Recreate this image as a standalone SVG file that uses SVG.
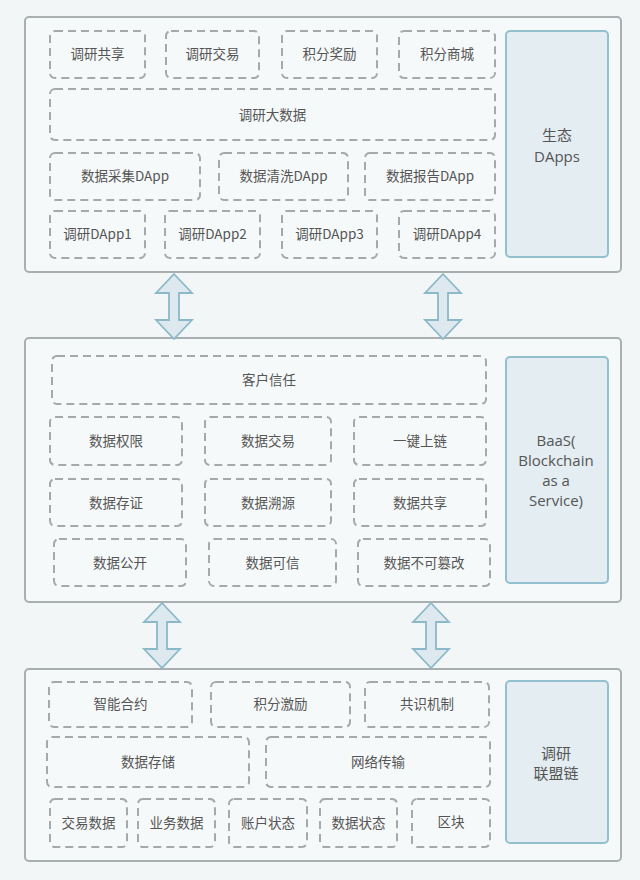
<svg xmlns="http://www.w3.org/2000/svg" width="640" height="880" viewBox="0 0 640 880">
<style>
.outer{fill:#f6f9fa;stroke:#a9aeb1;stroke-width:2}
.dash{fill:none;stroke:#a6a9ab;stroke-width:2;stroke-dasharray:8 5}
.side{fill:#e3edf2;stroke:#92c0cf;stroke-width:2}
.arrow{fill:#dde9ef;stroke:#8bb9c9;stroke-width:1.8;stroke-linejoin:miter}
.t{font-family:"Noto Sans CJK SC","Noto Sans",sans-serif;font-size:13.5px;fill:#555;text-anchor:middle}
.s{font-family:"Open Sans","Noto Sans CJK SC",sans-serif;font-size:15px;fill:#555;text-anchor:middle}
</style>
<defs>
<path id="dblarrow" d="M0,0 L18,19 L5,19 L5,46 L18,46 L0,65 L-18,46 L-5,46 L-5,19 L-18,19 Z"/>
</defs>
<rect x="0" y="0" width="640" height="880" fill="#f3f6f7"/>

<g id="layer-dapps">
<rect class="outer" x="25" y="17" width="596" height="255" rx="4"/>
<g id="n-dyfx"><rect class="dash" x="50" y="31" width="95" height="47" rx="5"/><text class="t" x="97.5" y="59">调研共享</text></g>
<g id="n-dyjy"><rect class="dash" x="166" y="31" width="93" height="47" rx="5"/><text class="t" x="212.5" y="59">调研交易</text></g>
<g id="n-jfjl"><rect class="dash" x="282" y="31" width="95" height="47" rx="5"/><text class="t" x="329.5" y="59">积分奖励</text></g>
<g id="n-jfsc"><rect class="dash" x="399" y="31" width="96" height="47" rx="5"/><text class="t" x="447" y="59">积分商城</text></g>
<g id="n-dydsj"><rect class="dash" x="50" y="89" width="445" height="51" rx="5"/><text class="t" x="272.5" y="119.5">调研大数据</text></g>
<g id="n-sjcj"><rect class="dash" x="50" y="153" width="150" height="47" rx="5"/><text class="t" x="125" y="181">数据采集DApp</text></g>
<g id="n-sjqx"><rect class="dash" x="219" y="153" width="129" height="47" rx="5"/><text class="t" x="283.5" y="181">数据清洗DApp</text></g>
<g id="n-sjbg"><rect class="dash" x="365" y="153" width="130" height="47" rx="5"/><text class="t" x="430" y="181">数据报告DApp</text></g>
<g id="n-d1"><rect class="dash" x="50" y="211" width="95" height="47" rx="5"/><text class="t" x="97.5" y="239">调研DApp1</text></g>
<g id="n-d2"><rect class="dash" x="165" y="211" width="95" height="47" rx="5"/><text class="t" x="212.5" y="239">调研DApp2</text></g>
<g id="n-d3"><rect class="dash" x="282" y="211" width="95" height="47" rx="5"/><text class="t" x="329.5" y="239">调研DApp3</text></g>
<g id="n-d4"><rect class="dash" x="399" y="211" width="96" height="47" rx="5"/><text class="t" x="447" y="239">调研DApp4</text></g>
<g id="n-side1"><rect class="side" x="506" y="31" width="102" height="226" rx="4"/><text class="s" x="557" y="141">生态</text><text class="s" x="557" y="162">DApps</text></g>
</g>

<g id="layer-baas">
<rect class="outer" x="25" y="338" width="596" height="264" rx="4"/>
<g id="n-khxr"><rect class="dash" x="52" y="356" width="434" height="48" rx="5"/><text class="t" x="269" y="385">客户信任</text></g>
<g id="n-sjqxian"><rect class="dash" x="50" y="417" width="132" height="48" rx="5"/><text class="t" x="116" y="446">数据权限</text></g>
<g id="n-sjjy"><rect class="dash" x="205" y="417" width="126" height="48" rx="5"/><text class="t" x="268" y="446">数据交易</text></g>
<g id="n-yjsl"><rect class="dash" x="354" y="417" width="132" height="48" rx="5"/><text class="t" x="420" y="446">一键上链</text></g>
<g id="n-sjcz"><rect class="dash" x="50" y="479" width="132" height="47" rx="5"/><text class="t" x="116" y="507.5">数据存证</text></g>
<g id="n-sjsy"><rect class="dash" x="205" y="479" width="126" height="47" rx="5"/><text class="t" x="268" y="507.5">数据溯源</text></g>
<g id="n-sjgx"><rect class="dash" x="354" y="479" width="132" height="47" rx="5"/><text class="t" x="420" y="507.5">数据共享</text></g>
<g id="n-sjgk"><rect class="dash" x="54" y="539" width="132" height="47" rx="5"/><text class="t" x="120" y="567.5">数据公开</text></g>
<g id="n-sjkx"><rect class="dash" x="209" y="539" width="127" height="47" rx="5"/><text class="t" x="272.5" y="567.5">数据可信</text></g>
<g id="n-sjbkcg"><rect class="dash" x="358" y="539" width="132" height="47" rx="5"/><text class="t" x="424" y="567.5">数据不可篡改</text></g>
<g id="n-side2"><rect class="side" x="506" y="357" width="102" height="226" rx="4"/><text class="s" x="556" y="446">BaaS(</text><text class="s" x="556" y="466">Blockchain</text><text class="s" x="556" y="486">as a</text><text class="s" x="556" y="506">Service)</text></g>
</g>

<g id="layer-chain">
<rect class="outer" x="25" y="669" width="596" height="192" rx="4"/>
<g id="n-znhy"><rect class="dash" x="49" y="682" width="143" height="45" rx="5"/><text class="t" x="120.5" y="709">智能合约</text></g>
<g id="n-jfjli"><rect class="dash" x="211" y="682" width="139" height="45" rx="5"/><text class="t" x="280.5" y="709">积分激励</text></g>
<g id="n-gsjz"><rect class="dash" x="365" y="682" width="124" height="45" rx="5"/><text class="t" x="427" y="709">共识机制</text></g>
<g id="n-sjcc"><rect class="dash" x="47" y="737" width="202" height="50" rx="5"/><text class="t" x="148" y="767">数据存储</text></g>
<g id="n-wlcs"><rect class="dash" x="266" y="737" width="224" height="50" rx="5"/><text class="t" x="378" y="767">网络传输</text></g>
<g id="n-jysj"><rect class="dash" x="50" y="799" width="77" height="48" rx="5"/><text class="t" x="88.5" y="828">交易数据</text></g>
<g id="n-ywsj"><rect class="dash" x="138" y="799" width="77" height="48" rx="5"/><text class="t" x="176.5" y="828">业务数据</text></g>
<g id="n-zhzt"><rect class="dash" x="229" y="799" width="78" height="48" rx="5"/><text class="t" x="268" y="828">账户状态</text></g>
<g id="n-sjzt"><rect class="dash" x="320" y="799" width="77" height="48" rx="5"/><text class="t" x="358.5" y="828">数据状态</text></g>
<g id="n-qk"><rect class="dash" x="412" y="799" width="78" height="48" rx="5"/><text class="t" x="451" y="827">区块</text></g>
<g id="n-side3"><rect class="side" x="506" y="681" width="102" height="162" rx="4"/><text class="s" x="556" y="759">调研</text><text class="s" x="556" y="779">联盟链</text></g>
</g>

<g id="connectors">
<use href="#dblarrow" class="arrow" x="174" y="274"/>
<use href="#dblarrow" class="arrow" x="443" y="274"/>
<use href="#dblarrow" class="arrow" x="162" y="603"/>
<use href="#dblarrow" class="arrow" x="431" y="603"/>
</g>
</svg>
